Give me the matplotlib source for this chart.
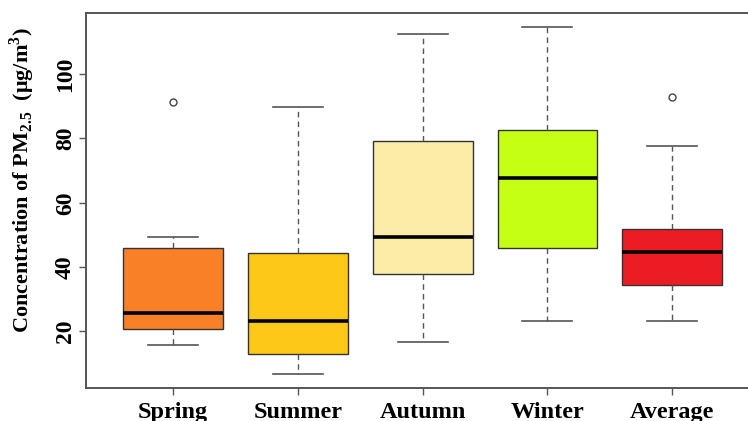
import matplotlib
matplotlib.use('Agg')
import matplotlib.pyplot as plt

# box statistics
seasons = ['Spring', 'Summer', 'Autumn', 'Winter', 'Average']
whis_lo = [15.7, 6.8, 16.6, 23.2, 23.2]
q1 = [20.6, 12.9, 38.0, 45.8, 34.4]
median = [25.8, 23.3, 49.5, 67.6, 44.6]
q3 = [45.8, 44.4, 79.3, 82.5, 51.9]
whis_hi = [49.5, 89.7, 112.4, 114.6, 77.6]
outliers = [[91.2], [], [], [], [93.0]]
colors = ['#FA8028', '#FEC819', '#FBECA8', '#C5FF14', '#EC1C24']

plt.rcParams['font.family'] = 'Liberation Serif'
plt.rcParams['font.weight'] = 'bold'
plt.rcParams['mathtext.fontset'] = 'custom'
plt.rcParams['mathtext.rm'] = 'Liberation Serif:bold'
plt.rcParams['mathtext.bf'] = 'Liberation Serif:bold'

stats = []
for i in range(len(seasons)):
    stats.append({'label': seasons[i], 'whislo': whis_lo[i], 'q1': q1[i],
                  'med': median[i], 'q3': q3[i], 'whishi': whis_hi[i],
                  'fliers': outliers[i]})

fig = plt.figure(figsize=(7.48, 4.21), dpi=100)
ax = fig.add_axes([0.1146, 0.0791, 0.9009, 0.8893])

grey = '#555555'
bp = ax.bxp(stats, widths=0.8, capwidths=0.4, patch_artist=True,
            boxprops=dict(edgecolor='#333333', linewidth=1.0),
            medianprops=dict(color='black', linewidth=2.6),
            whiskerprops=dict(color=grey, linewidth=1.0, linestyle=(0, (4, 3))),
            capprops=dict(color=grey, linewidth=1.2),
            flierprops=dict(marker='o', markersize=5, markerfacecolor='white',
                            markeredgecolor='#444444', markeredgewidth=1.0))
for patch, c in zip(bp['boxes'], colors):
    patch.set_facecolor(c)

ax.set_xlim(0.3, 5.7)
ax.set_ylim(2.5, 118.9)
ax.set_yticks([20, 40, 60, 80, 100])
for lbl in ax.get_yticklabels():
    lbl.set_rotation(90)
    lbl.set_va('center')
ax.tick_params(axis='y', labelsize=17, length=5, width=1.0, color=grey, pad=2)
ax.tick_params(axis='x', labelsize=17.5, length=5, width=1.0, color=grey, pad=5)

for s in ax.spines.values():
    s.set_color(grey)
    s.set_linewidth(1.4)

fig.text(22 / 748, 1 - 180 / 421,
         r'Concentration of PM$_{2.5}$  (μg/m$^{3}$)',
         rotation=90, ha='center', va='center', fontsize=16, fontweight='bold')

plt.savefig('out.png', dpi=100)
plt.close()
